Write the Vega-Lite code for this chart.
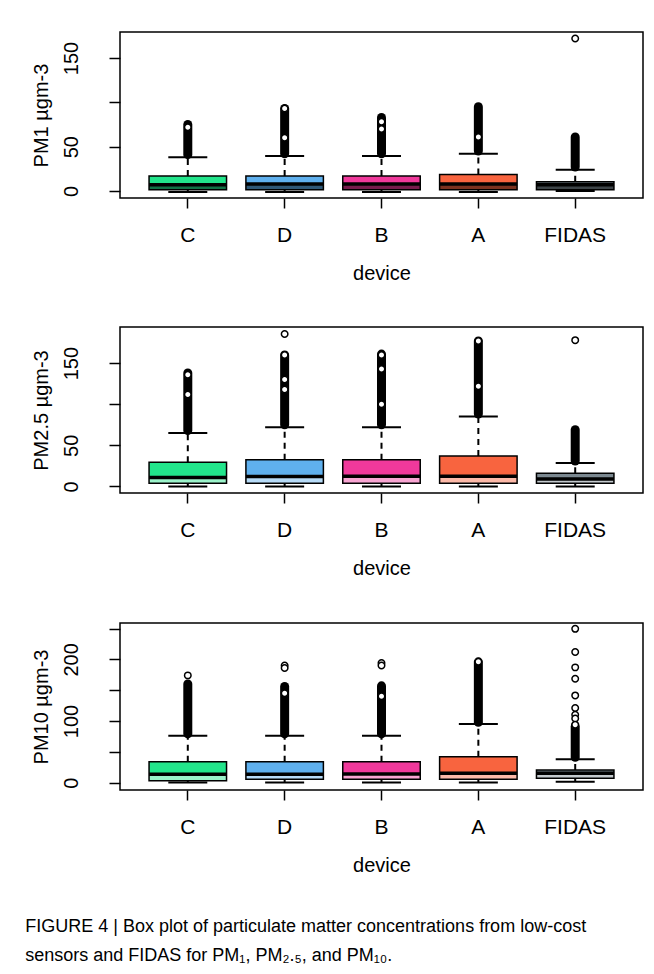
{
  "$schema": "https://vega.github.io/schema/vega-lite/v6.json",
  "background": "white",
  "padding": {"left": 25, "top": 31, "right": 0, "bottom": 0},
  "datasets": {
    "boxes": [
      {"panel": "PM1", "device": "C", "lo": -1, "q1": 1.5, "med": 7, "q3": 17, "hi": 38},
      {"panel": "PM1", "device": "D", "lo": -1, "q1": 1.5, "med": 8, "q3": 17, "hi": 39.5},
      {"panel": "PM1", "device": "B", "lo": -1, "q1": 1.5, "med": 8, "q3": 17, "hi": 39.5},
      {"panel": "PM1", "device": "A", "lo": -1, "q1": 1.5, "med": 8, "q3": 18.5, "hi": 42},
      {"panel": "PM1", "device": "FIDAS", "lo": 0, "q1": 1.5, "med": 7, "q3": 10.5, "hi": 24},
      {"panel": "PM2.5", "device": "C", "lo": 0, "q1": 4, "med": 11, "q3": 29.5, "hi": 65},
      {"panel": "PM2.5", "device": "D", "lo": 0, "q1": 4, "med": 12, "q3": 32.5, "hi": 72},
      {"panel": "PM2.5", "device": "B", "lo": 0, "q1": 4, "med": 12.5, "q3": 32.5, "hi": 72},
      {"panel": "PM2.5", "device": "A", "lo": 0, "q1": 4, "med": 12.5, "q3": 37, "hi": 85},
      {"panel": "PM2.5", "device": "FIDAS", "lo": 0, "q1": 4, "med": 9, "q3": 16, "hi": 28.5},
      {"panel": "PM10", "device": "C", "lo": 0, "q1": 3, "med": 13.5, "q3": 34, "hi": 76},
      {"panel": "PM10", "device": "D", "lo": 0, "q1": 5.5, "med": 13.5, "q3": 34, "hi": 76},
      {"panel": "PM10", "device": "B", "lo": 0, "q1": 5.5, "med": 14, "q3": 34, "hi": 76},
      {"panel": "PM10", "device": "A", "lo": 0, "q1": 5.5, "med": 15, "q3": 42, "hi": 95},
      {"panel": "PM10", "device": "FIDAS", "lo": 1.5, "q1": 7, "med": 15, "q3": 20.5, "hi": 38}
    ],
    "clusters": [
      {"panel": "PM1", "device": "C", "lo": 41, "hi": 75},
      {"panel": "PM1", "device": "D", "lo": 42, "hi": 93},
      {"panel": "PM1", "device": "B", "lo": 42, "hi": 83},
      {"panel": "PM1", "device": "A", "lo": 45, "hi": 95},
      {"panel": "PM1", "device": "FIDAS", "lo": 27, "hi": 61},
      {"panel": "PM2.5", "device": "C", "lo": 68, "hi": 138},
      {"panel": "PM2.5", "device": "D", "lo": 75, "hi": 160},
      {"panel": "PM2.5", "device": "B", "lo": 75, "hi": 161},
      {"panel": "PM2.5", "device": "A", "lo": 88, "hi": 177},
      {"panel": "PM2.5", "device": "FIDAS", "lo": 31, "hi": 69},
      {"panel": "PM10", "device": "C", "lo": 79, "hi": 160},
      {"panel": "PM10", "device": "D", "lo": 79, "hi": 156},
      {"panel": "PM10", "device": "B", "lo": 79, "hi": 157},
      {"panel": "PM10", "device": "A", "lo": 98, "hi": 196},
      {"panel": "PM10", "device": "FIDAS", "lo": 41, "hi": 91}
    ],
    "outliers": [
      {"panel": "PM1", "device": "C", "value": 72},
      {"panel": "PM1", "device": "D", "value": 93},
      {"panel": "PM1", "device": "D", "value": 60},
      {"panel": "PM1", "device": "B", "value": 78},
      {"panel": "PM1", "device": "B", "value": 70},
      {"panel": "PM1", "device": "A", "value": 61},
      {"panel": "PM1", "device": "FIDAS", "value": 172},
      {"panel": "PM2.5", "device": "C", "value": 136},
      {"panel": "PM2.5", "device": "C", "value": 112},
      {"panel": "PM2.5", "device": "D", "value": 185.5},
      {"panel": "PM2.5", "device": "D", "value": 160},
      {"panel": "PM2.5", "device": "D", "value": 130},
      {"panel": "PM2.5", "device": "D", "value": 118},
      {"panel": "PM2.5", "device": "B", "value": 160},
      {"panel": "PM2.5", "device": "B", "value": 143},
      {"panel": "PM2.5", "device": "B", "value": 100},
      {"panel": "PM2.5", "device": "A", "value": 177},
      {"panel": "PM2.5", "device": "A", "value": 122},
      {"panel": "PM2.5", "device": "FIDAS", "value": 178},
      {"panel": "PM10", "device": "C", "value": 174},
      {"panel": "PM10", "device": "D", "value": 190},
      {"panel": "PM10", "device": "D", "value": 186},
      {"panel": "PM10", "device": "D", "value": 145},
      {"panel": "PM10", "device": "B", "value": 194},
      {"panel": "PM10", "device": "B", "value": 190},
      {"panel": "PM10", "device": "B", "value": 140},
      {"panel": "PM10", "device": "A", "value": 196},
      {"panel": "PM10", "device": "FIDAS", "value": 249.5},
      {"panel": "PM10", "device": "FIDAS", "value": 212},
      {"panel": "PM10", "device": "FIDAS", "value": 187},
      {"panel": "PM10", "device": "FIDAS", "value": 168.5},
      {"panel": "PM10", "device": "FIDAS", "value": 141.5},
      {"panel": "PM10", "device": "FIDAS", "value": 121},
      {"panel": "PM10", "device": "FIDAS", "value": 110},
      {"panel": "PM10", "device": "FIDAS", "value": 104},
      {"panel": "PM10", "device": "FIDAS", "value": 94}
    ]
  },
  "vconcat": [
    {
      "width": 523,
      "height": 166,
      "encoding": {
        "x": {"field": "device", "type": "nominal", "sort": ["C", "D", "B", "A", "FIDAS"], "scale": {"type": "band", "paddingInner": 0.2, "paddingOuter": 0.3}, "axis": {"title": "device"}}
      },
      "layer": [
        {"data": {"name": "boxes"}, "transform": [{"filter": "datum.panel == 'PM1'"}],
         "mark": {"type": "rule", "color": "black", "strokeWidth": 2, "strokeDash": [6, 5]},
         "encoding": {"y": {"field": "q3", "type": "quantitative", "title": "PM1 µgm-3", "scale": {"domain": [-7.9, 179.3], "nice": false, "zero": false}, "axis": {"values": [0, 50, 100, 150], "labelExpr": "datum.value == 100 ? '' : datum.label"}}, "y2": {"field": "hi"}}},
        {"data": {"name": "boxes"}, "transform": [{"filter": "datum.panel == 'PM1'"}],
         "mark": {"type": "rule", "color": "black", "strokeWidth": 2, "strokeDash": [6, 5]},
         "encoding": {"y": {"field": "lo", "type": "quantitative", "title": "PM1 µgm-3", "scale": {"domain": [-7.9, 179.3], "nice": false, "zero": false}, "axis": {"values": [0, 50, 100, 150], "labelExpr": "datum.value == 100 ? '' : datum.label"}}, "y2": {"field": "q1"}}},
        {"data": {"name": "boxes"}, "transform": [{"filter": "datum.panel == 'PM1'"}],
         "mark": {"type": "tick", "orient": "horizontal", "color": "black", "size": 39, "thickness": 2, "opacity": 1},
         "encoding": {"y": {"field": "hi", "type": "quantitative", "title": "PM1 µgm-3", "scale": {"domain": [-7.9, 179.3], "nice": false, "zero": false}, "axis": {"values": [0, 50, 100, 150], "labelExpr": "datum.value == 100 ? '' : datum.label"}}}},
        {"data": {"name": "boxes"}, "transform": [{"filter": "datum.panel == 'PM1'"}],
         "mark": {"type": "tick", "orient": "horizontal", "color": "black", "size": 39, "thickness": 2, "opacity": 1},
         "encoding": {"y": {"field": "lo", "type": "quantitative", "title": "PM1 µgm-3", "scale": {"domain": [-7.9, 179.3], "nice": false, "zero": false}, "axis": {"values": [0, 50, 100, 150], "labelExpr": "datum.value == 100 ? '' : datum.label"}}}},
        {"data": {"name": "boxes"}, "transform": [{"filter": "datum.panel == 'PM1'"}],
         "mark": {"type": "bar", "opacity": 1},
         "encoding": {"y": {"field": "q1", "type": "quantitative", "title": "PM1 µgm-3", "scale": {"domain": [-7.9, 179.3], "nice": false, "zero": false}, "axis": {"values": [0, 50, 100, 150], "labelExpr": "datum.value == 100 ? '' : datum.label"}}, "y2": {"field": "q3"},
           "color": {"field": "device", "type": "nominal", "scale": {"domain": ["C", "D", "B", "A", "FIDAS"], "range": ["#22e58b", "#5fb0ee", "#f0399b", "#f8643f", "#7b8890"]}, "legend": null}}},
        {"data": {"name": "boxes"}, "transform": [{"filter": "datum.panel == 'PM1'"}],
         "mark": {"type": "bar", "color": "black", "opacity": 0.5},
         "encoding": {"y": {"field": "q1", "type": "quantitative", "title": "PM1 µgm-3", "scale": {"domain": [-7.9, 179.3], "nice": false, "zero": false}, "axis": {"values": [0, 50, 100, 150], "labelExpr": "datum.value == 100 ? '' : datum.label"}}, "y2": {"field": "med"}}},
        {"data": {"name": "boxes"}, "transform": [{"filter": "datum.panel == 'PM1'"}],
         "mark": {"type": "bar", "filled": false, "color": "black", "strokeWidth": 1.5, "opacity": 1},
         "encoding": {"y": {"field": "q1", "type": "quantitative", "title": "PM1 µgm-3", "scale": {"domain": [-7.9, 179.3], "nice": false, "zero": false}, "axis": {"values": [0, 50, 100, 150], "labelExpr": "datum.value == 100 ? '' : datum.label"}}, "y2": {"field": "q3"}}},
        {"data": {"name": "boxes"}, "transform": [{"filter": "datum.panel == 'PM1'"}],
         "mark": {"type": "bar", "filled": false, "color": "black", "strokeWidth": 3.5, "opacity": 1},
         "encoding": {"y": {"field": "med", "type": "quantitative", "title": "PM1 µgm-3", "scale": {"domain": [-7.9, 179.3], "nice": false, "zero": false}, "axis": {"values": [0, 50, 100, 150], "labelExpr": "datum.value == 100 ? '' : datum.label"}}, "y2": {"field": "med"}}},
        {"data": {"name": "clusters"}, "transform": [{"filter": "datum.panel == 'PM1'"}],
         "mark": {"type": "rule", "color": "black", "strokeWidth": 9, "strokeCap": "round"},
         "encoding": {"y": {"field": "lo", "type": "quantitative", "title": "PM1 µgm-3", "scale": {"domain": [-7.9, 179.3], "nice": false, "zero": false}, "axis": {"values": [0, 50, 100, 150], "labelExpr": "datum.value == 100 ? '' : datum.label"}}, "y2": {"field": "hi"}}},
        {"data": {"name": "outliers"}, "transform": [{"filter": "datum.panel == 'PM1'"}],
         "mark": {"type": "point", "shape": "circle", "filled": true, "fill": "white", "stroke": "black", "strokeWidth": 1.5, "size": 42, "opacity": 1},
         "encoding": {"y": {"field": "value", "type": "quantitative", "title": "PM1 µgm-3", "scale": {"domain": [-7.9, 179.3], "nice": false, "zero": false}, "axis": {"values": [0, 50, 100, 150], "labelExpr": "datum.value == 100 ? '' : datum.label"}}}}
      ]
    },
    {
      "width": 523,
      "height": 166,
      "encoding": {
        "x": {"field": "device", "type": "nominal", "sort": ["C", "D", "B", "A", "FIDAS"], "scale": {"type": "band", "paddingInner": 0.2, "paddingOuter": 0.3}, "axis": {"title": "device"}}
      },
      "layer": [
        {"data": {"name": "boxes"}, "transform": [{"filter": "datum.panel == 'PM2.5'"}],
         "mark": {"type": "rule", "color": "black", "strokeWidth": 2, "strokeDash": [6, 5]},
         "encoding": {"y": {"field": "q3", "type": "quantitative", "title": "PM2.5 µgm-3", "scale": {"domain": [-8, 194], "nice": false, "zero": false}, "axis": {"values": [0, 50, 100, 150], "labelExpr": "datum.value == 100 ? '' : datum.label"}}, "y2": {"field": "hi"}}},
        {"data": {"name": "boxes"}, "transform": [{"filter": "datum.panel == 'PM2.5'"}],
         "mark": {"type": "rule", "color": "black", "strokeWidth": 2, "strokeDash": [6, 5]},
         "encoding": {"y": {"field": "lo", "type": "quantitative", "title": "PM2.5 µgm-3", "scale": {"domain": [-8, 194], "nice": false, "zero": false}, "axis": {"values": [0, 50, 100, 150], "labelExpr": "datum.value == 100 ? '' : datum.label"}}, "y2": {"field": "q1"}}},
        {"data": {"name": "boxes"}, "transform": [{"filter": "datum.panel == 'PM2.5'"}],
         "mark": {"type": "tick", "orient": "horizontal", "color": "black", "size": 39, "thickness": 2, "opacity": 1},
         "encoding": {"y": {"field": "hi", "type": "quantitative", "title": "PM2.5 µgm-3", "scale": {"domain": [-8, 194], "nice": false, "zero": false}, "axis": {"values": [0, 50, 100, 150], "labelExpr": "datum.value == 100 ? '' : datum.label"}}}},
        {"data": {"name": "boxes"}, "transform": [{"filter": "datum.panel == 'PM2.5'"}],
         "mark": {"type": "tick", "orient": "horizontal", "color": "black", "size": 39, "thickness": 2, "opacity": 1},
         "encoding": {"y": {"field": "lo", "type": "quantitative", "title": "PM2.5 µgm-3", "scale": {"domain": [-8, 194], "nice": false, "zero": false}, "axis": {"values": [0, 50, 100, 150], "labelExpr": "datum.value == 100 ? '' : datum.label"}}}},
        {"data": {"name": "boxes"}, "transform": [{"filter": "datum.panel == 'PM2.5'"}],
         "mark": {"type": "bar", "opacity": 1},
         "encoding": {"y": {"field": "q1", "type": "quantitative", "title": "PM2.5 µgm-3", "scale": {"domain": [-8, 194], "nice": false, "zero": false}, "axis": {"values": [0, 50, 100, 150], "labelExpr": "datum.value == 100 ? '' : datum.label"}}, "y2": {"field": "q3"},
           "color": {"field": "device", "type": "nominal", "scale": {"domain": ["C", "D", "B", "A", "FIDAS"], "range": ["#22e58b", "#5fb0ee", "#f0399b", "#f8643f", "#7b8890"]}, "legend": null}}},
        {"data": {"name": "boxes"}, "transform": [{"filter": "datum.panel == 'PM2.5'"}],
         "mark": {"type": "bar", "color": "white", "opacity": 0.55},
         "encoding": {"y": {"field": "q1", "type": "quantitative", "title": "PM2.5 µgm-3", "scale": {"domain": [-8, 194], "nice": false, "zero": false}, "axis": {"values": [0, 50, 100, 150], "labelExpr": "datum.value == 100 ? '' : datum.label"}}, "y2": {"field": "med"}}},
        {"data": {"name": "boxes"}, "transform": [{"filter": "datum.panel == 'PM2.5'"}],
         "mark": {"type": "bar", "filled": false, "color": "black", "strokeWidth": 1.5, "opacity": 1},
         "encoding": {"y": {"field": "q1", "type": "quantitative", "title": "PM2.5 µgm-3", "scale": {"domain": [-8, 194], "nice": false, "zero": false}, "axis": {"values": [0, 50, 100, 150], "labelExpr": "datum.value == 100 ? '' : datum.label"}}, "y2": {"field": "q3"}}},
        {"data": {"name": "boxes"}, "transform": [{"filter": "datum.panel == 'PM2.5'"}],
         "mark": {"type": "bar", "filled": false, "color": "black", "strokeWidth": 3.5, "opacity": 1},
         "encoding": {"y": {"field": "med", "type": "quantitative", "title": "PM2.5 µgm-3", "scale": {"domain": [-8, 194], "nice": false, "zero": false}, "axis": {"values": [0, 50, 100, 150], "labelExpr": "datum.value == 100 ? '' : datum.label"}}, "y2": {"field": "med"}}},
        {"data": {"name": "clusters"}, "transform": [{"filter": "datum.panel == 'PM2.5'"}],
         "mark": {"type": "rule", "color": "black", "strokeWidth": 9, "strokeCap": "round"},
         "encoding": {"y": {"field": "lo", "type": "quantitative", "title": "PM2.5 µgm-3", "scale": {"domain": [-8, 194], "nice": false, "zero": false}, "axis": {"values": [0, 50, 100, 150], "labelExpr": "datum.value == 100 ? '' : datum.label"}}, "y2": {"field": "hi"}}},
        {"data": {"name": "outliers"}, "transform": [{"filter": "datum.panel == 'PM2.5'"}],
         "mark": {"type": "point", "shape": "circle", "filled": true, "fill": "white", "stroke": "black", "strokeWidth": 1.5, "size": 42, "opacity": 1},
         "encoding": {"y": {"field": "value", "type": "quantitative", "title": "PM2.5 µgm-3", "scale": {"domain": [-8, 194], "nice": false, "zero": false}, "axis": {"values": [0, 50, 100, 150], "labelExpr": "datum.value == 100 ? '' : datum.label"}}}}
      ]
    },
    {
      "width": 523,
      "height": 167,
      "encoding": {
        "x": {"field": "device", "type": "nominal", "sort": ["C", "D", "B", "A", "FIDAS"], "scale": {"type": "band", "paddingInner": 0.2, "paddingOuter": 0.3}, "axis": {"title": "device"}}
      },
      "layer": [
        {"data": {"name": "boxes"}, "transform": [{"filter": "datum.panel == 'PM10'"}],
         "mark": {"type": "rule", "color": "black", "strokeWidth": 2, "strokeDash": [6, 5]},
         "encoding": {"y": {"field": "q3", "type": "quantitative", "title": "PM10 µgm-3", "scale": {"domain": [-12, 259], "nice": false, "zero": false}, "axis": {"values": [0, 50, 100, 150, 200, 250], "labelExpr": "datum.value % 100 == 0 ? datum.label : ''"}}, "y2": {"field": "hi"}}},
        {"data": {"name": "boxes"}, "transform": [{"filter": "datum.panel == 'PM10'"}],
         "mark": {"type": "rule", "color": "black", "strokeWidth": 2, "strokeDash": [6, 5]},
         "encoding": {"y": {"field": "lo", "type": "quantitative", "title": "PM10 µgm-3", "scale": {"domain": [-12, 259], "nice": false, "zero": false}, "axis": {"values": [0, 50, 100, 150, 200, 250], "labelExpr": "datum.value % 100 == 0 ? datum.label : ''"}}, "y2": {"field": "q1"}}},
        {"data": {"name": "boxes"}, "transform": [{"filter": "datum.panel == 'PM10'"}],
         "mark": {"type": "tick", "orient": "horizontal", "color": "black", "size": 39, "thickness": 2, "opacity": 1},
         "encoding": {"y": {"field": "hi", "type": "quantitative", "title": "PM10 µgm-3", "scale": {"domain": [-12, 259], "nice": false, "zero": false}, "axis": {"values": [0, 50, 100, 150, 200, 250], "labelExpr": "datum.value % 100 == 0 ? datum.label : ''"}}}},
        {"data": {"name": "boxes"}, "transform": [{"filter": "datum.panel == 'PM10'"}],
         "mark": {"type": "tick", "orient": "horizontal", "color": "black", "size": 39, "thickness": 2, "opacity": 1},
         "encoding": {"y": {"field": "lo", "type": "quantitative", "title": "PM10 µgm-3", "scale": {"domain": [-12, 259], "nice": false, "zero": false}, "axis": {"values": [0, 50, 100, 150, 200, 250], "labelExpr": "datum.value % 100 == 0 ? datum.label : ''"}}}},
        {"data": {"name": "boxes"}, "transform": [{"filter": "datum.panel == 'PM10'"}],
         "mark": {"type": "bar", "opacity": 1},
         "encoding": {"y": {"field": "q1", "type": "quantitative", "title": "PM10 µgm-3", "scale": {"domain": [-12, 259], "nice": false, "zero": false}, "axis": {"values": [0, 50, 100, 150, 200, 250], "labelExpr": "datum.value % 100 == 0 ? datum.label : ''"}}, "y2": {"field": "q3"},
           "color": {"field": "device", "type": "nominal", "scale": {"domain": ["C", "D", "B", "A", "FIDAS"], "range": ["#22e58b", "#5fb0ee", "#f0399b", "#f8643f", "#7b8890"]}, "legend": null}}},
        {"data": {"name": "boxes"}, "transform": [{"filter": "datum.panel == 'PM10'"}],
         "mark": {"type": "bar", "color": "white", "opacity": 0.55},
         "encoding": {"y": {"field": "q1", "type": "quantitative", "title": "PM10 µgm-3", "scale": {"domain": [-12, 259], "nice": false, "zero": false}, "axis": {"values": [0, 50, 100, 150, 200, 250], "labelExpr": "datum.value % 100 == 0 ? datum.label : ''"}}, "y2": {"field": "med"}}},
        {"data": {"name": "boxes"}, "transform": [{"filter": "datum.panel == 'PM10'"}],
         "mark": {"type": "bar", "filled": false, "color": "black", "strokeWidth": 1.5, "opacity": 1},
         "encoding": {"y": {"field": "q1", "type": "quantitative", "title": "PM10 µgm-3", "scale": {"domain": [-12, 259], "nice": false, "zero": false}, "axis": {"values": [0, 50, 100, 150, 200, 250], "labelExpr": "datum.value % 100 == 0 ? datum.label : ''"}}, "y2": {"field": "q3"}}},
        {"data": {"name": "boxes"}, "transform": [{"filter": "datum.panel == 'PM10'"}],
         "mark": {"type": "bar", "filled": false, "color": "black", "strokeWidth": 3.5, "opacity": 1},
         "encoding": {"y": {"field": "med", "type": "quantitative", "title": "PM10 µgm-3", "scale": {"domain": [-12, 259], "nice": false, "zero": false}, "axis": {"values": [0, 50, 100, 150, 200, 250], "labelExpr": "datum.value % 100 == 0 ? datum.label : ''"}}, "y2": {"field": "med"}}},
        {"data": {"name": "clusters"}, "transform": [{"filter": "datum.panel == 'PM10'"}],
         "mark": {"type": "rule", "color": "black", "strokeWidth": 9, "strokeCap": "round"},
         "encoding": {"y": {"field": "lo", "type": "quantitative", "title": "PM10 µgm-3", "scale": {"domain": [-12, 259], "nice": false, "zero": false}, "axis": {"values": [0, 50, 100, 150, 200, 250], "labelExpr": "datum.value % 100 == 0 ? datum.label : ''"}}, "y2": {"field": "hi"}}},
        {"data": {"name": "outliers"}, "transform": [{"filter": "datum.panel == 'PM10'"}],
         "mark": {"type": "point", "shape": "circle", "filled": true, "fill": "white", "stroke": "black", "strokeWidth": 1.5, "size": 42, "opacity": 1},
         "encoding": {"y": {"field": "value", "type": "quantitative", "title": "PM10 µgm-3", "scale": {"domain": [-12, 259], "nice": false, "zero": false}, "axis": {"values": [0, 50, 100, 150, 200, 250], "labelExpr": "datum.value % 100 == 0 ? datum.label : ''"}}}}
      ]
    }
  ],
  "spacing": 42,
  "title": {
    "text": ["FIGURE 4 | Box plot of particulate matter concentrations from low-cost", "sensors and FIDAS for PM₁, PM₂.₅, and PM₁₀."],
    "orient": "bottom",
    "anchor": "start",
    "frame": "bounds",
    "font": "Liberation Sans",
    "fontSize": 18,
    "fontWeight": "normal",
    "lineHeight": 29,
    "color": "black",
    "offset": 42,
    "dx": -5
  },
  "config": {
    "font": "Liberation Sans",
    "view": {"stroke": "black", "strokeWidth": 1.5},
    "axis": {"grid": false, "domain": false, "tickColor": "black", "tickWidth": 1.5, "labelColor": "black", "titleColor": "black", "labelFont": "Liberation Sans", "titleFont": "Liberation Sans", "titleFontWeight": "normal", "labelOverlap": false, "labelFlush": false, "labelBound": false},
    "axisX": {"labelAngle": 0, "labelFontSize": 21, "tickSize": 10, "labelPadding": 16, "titleFontSize": 20, "titlePadding": 18},
    "axisY": {"labelAngle": 270, "labelAlign": "center", "labelBaseline": "bottom", "labelFontSize": 20, "tickSize": 11, "labelPadding": 28, "titleFontSize": 20, "titlePadding": 10}
  }
}
